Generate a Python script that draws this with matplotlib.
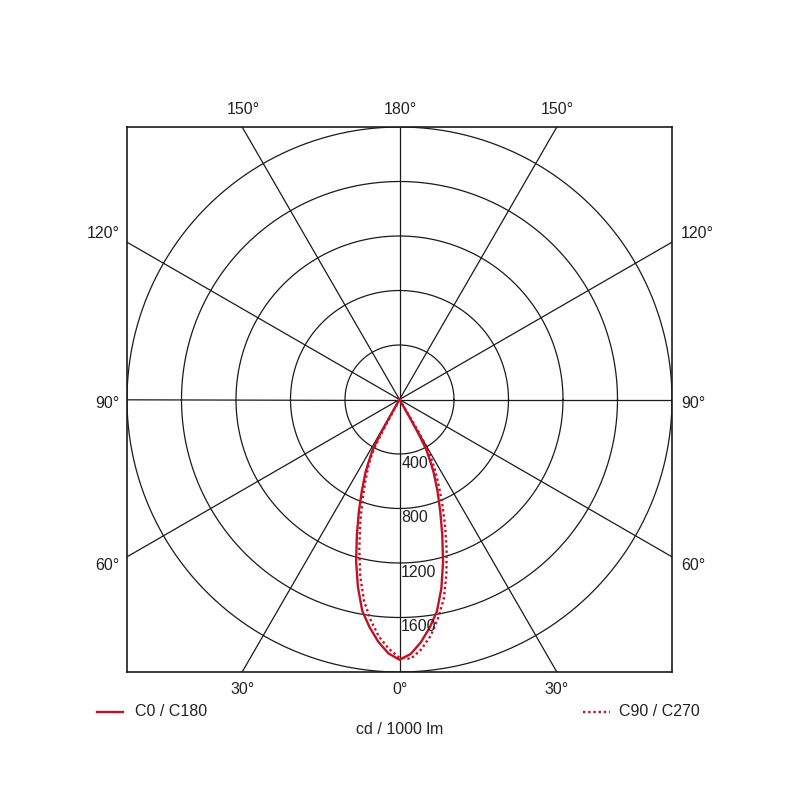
import numpy as np
import matplotlib.pyplot as plt

plt.rcParams['font.family'] = ['Liberation Sans', 'DejaVu Sans']

# gamma angles (deg) and luminous intensity (cd / 1000 lm)
gamma_c0 = [0, 2.5, 5, 7.5, 10, 12.5, 15, 17.5, 20, 22.5, 25, 26, 27, 28, 29, 29.5, 30]
c0 = [1910, 1870, 1790, 1690, 1580, 1420, 1235, 1045, 875, 730, 595, 535, 475, 425, 300, 150, 0]
gamma_c180 = [0, 2.5, 5, 7.5, 10, 12.5, 15, 17.5, 20, 22.5, 25, 26, 27, 28, 29, 29.5, 30]
c180 = [1910, 1865, 1785, 1685, 1575, 1410, 1230, 1040, 870, 720, 590, 530, 470, 420, 300, 150, 0]
gamma_c90 = [0, 2.5, 5, 7.5, 10, 12.5, 15, 17.5, 20, 22.5, 25, 27, 28, 29, 30, 30.5, 31, 31.5]
c90 = [1895, 1905, 1840, 1750, 1630, 1500, 1330, 1150, 975, 815, 670, 565, 505, 445, 360, 300, 150, 0]
gamma_c270 = [0, 2.5, 5, 7.5, 10, 12.5, 15, 17.5, 20, 22.5, 25, 26, 27, 27.5, 28, 28.5]
c270 = [1895, 1830, 1745, 1630, 1500, 1330, 1140, 960, 800, 660, 540, 490, 430, 380, 250, 0]

rings = [400, 800, 1200, 1600, 2000]
ring_labels = ['400', '800', '1200', '1600']
spoke_angles = list(range(0, 360, 30))
top_labels = ['150°', '180°', '150°']
side_labels = ['120°', '90°', '60°']
bottom_labels = ['30°', '0°', '30°']

red = '#c21025'
grid = '#1a1a1a'
tc = '#222222'
fs = 11.5

fig = plt.figure(figsize=(8, 8), dpi=100)
ax = fig.add_axes([127 / 800, 128 / 800, 545 / 800, 545 / 800])
ax.set_xlim(-2000, 2000)
ax.set_ylim(-2000, 2000)
ax.set_aspect('equal')
ax.set_xticks([])
ax.set_yticks([])
for s in ax.spines.values():
    s.set_linewidth(1.2)
    s.set_color(grid)

t = np.linspace(0, 2 * np.pi, 400)
for r in rings:
    ax.plot(r * np.cos(t), r * np.sin(t), color=grid, lw=0.9)
for a in spoke_angles:
    ar = np.radians(a)
    ax.plot([0, 4000 * np.sin(ar)], [0, -4000 * np.cos(ar)], color=grid, lw=0.9)

for r, lab in zip(rings, ring_labels):
    ax.annotate(lab, (0, -r), xytext=(1.2, -6.5), textcoords='offset points',
                ha='left', va='center', fontsize=fs, color=tc)


def curve(g_right, right, g_left, left):
    gr = np.radians(g_right)
    gl = np.radians(g_left)
    xr = np.array(right) * np.sin(gr)
    yr = -np.array(right) * np.cos(gr)
    xl = -np.array(left) * np.sin(gl)
    yl = -np.array(left) * np.cos(gl)
    return np.concatenate([xl[::-1], xr]), np.concatenate([yl[::-1], yr])


x, y = curve(gamma_c0, c0, gamma_c180, c180)
ax.plot(x, y, color=red, lw=1.7, solid_joinstyle='round')
x, y = curve(gamma_c90, c90, gamma_c270, c270)
ax.plot(x, y, color=red, lw=1.7, ls=(0, (1, 1.2)))

# angle labels around the frame
for xp, lab in zip([243, 400, 557], top_labels):
    fig.text(xp / 800, 1 - 109 / 800, lab, ha='center', va='center', fontsize=fs, color=tc)
for xp, lab in zip([243, 400, 557], bottom_labels):
    fig.text(xp / 800, 1 - 690 / 800, lab, ha='center', va='center', fontsize=fs, color=tc)
for yp, lab in zip([234, 403, 566], side_labels):
    fig.text(120 / 800, 1 - yp / 800, lab, ha='right', va='center', fontsize=fs, color=tc)
    fig.text(681 / 800, 1 - yp / 800, lab, ha='left', va='center', fontsize=fs, color=tc)

# legend
fig.add_artist(plt.Line2D([97 / 800, 123 / 800], [1 - 712 / 800] * 2, color=red, lw=1.7))
fig.text(135 / 800, 1 - 712 / 800, 'C0 / C180', ha='left', va='center', fontsize=fs, color=tc)
fig.add_artist(plt.Line2D([583 / 800, 610 / 800], [1 - 712 / 800] * 2, color=red, lw=1.7,
                          ls=(0, (1, 1.2))))
fig.text(619 / 800, 1 - 712 / 800, 'C90 / C270', ha='left', va='center', fontsize=fs, color=tc)
fig.text(400 / 800, 1 - 730 / 800, 'cd / 1000 lm', ha='center', va='center', fontsize=fs, color=tc)

fig.savefig('out.png', dpi=100, facecolor='white')
